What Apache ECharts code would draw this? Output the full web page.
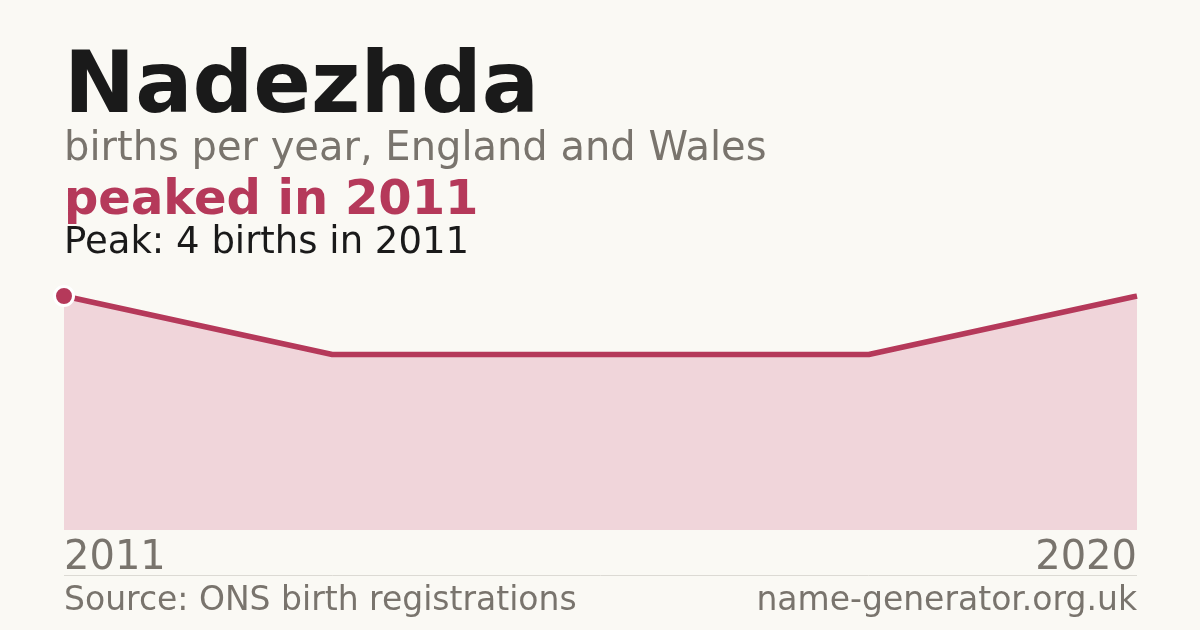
<!DOCTYPE html>
<html lang="en">
  <head>
    <meta charset="UTF-8" />
    <title>Nadezhda</title>
    <script src="https://cdn.jsdelivr.net/npm/echarts@6/dist/echarts.min.js"></script>
    <style>
      html, body { margin: 0; padding: 0; background: #faf9f4; }
      #chart { width: 1200px; height: 630px; }
    </style>
  </head>
  <body>
    <div id="chart"></div>
    <script>
      // data
      const years = ["2011", "2013", "2016", "2018", "2020"];
      const births = [4, 3, 3, 3, 4];
      const peakIndex = 0;

      const red = "#b5395a";
      const grey = "#79746d";
      const font = "DejaVu Sans";

      let chart = echarts.init(document.getElementById("chart"));

      // only the peak gets a dot
      let lineData = births.map(function (v, i) {
        if (i === peakIndex) {
          return { value: v, symbol: "circle", symbolSize: 19 };
        }
        return { value: v, symbol: "none" };
      });

      let option = {
        backgroundColor: "#faf9f4",
        animation: false,
        grid: { left: 64, right: 63, top: 296, bottom: 100 },
        xAxis: {
          type: "category",
          data: years,
          boundaryGap: false,
          axisLine: { show: false },
          axisTick: { show: false },
          splitLine: { show: false },
          axisLabel: {
            // first and last year only
            interval: function (i) { return i === 0 || i === years.length - 1; },
            alignMinLabel: "left",
            alignMaxLabel: "right",
            color: grey,
            fontFamily: font,
            fontSize: 40,
            margin: 9,
          },
        },
        yAxis: { type: "value", min: 0, max: 4, show: false },
        series: [
          {
            type: "line",
            data: lineData,
            lineStyle: { color: red, width: 5.5 },
            itemStyle: { color: red, borderColor: "#ffffff", borderWidth: 3 },
            areaStyle: { color: "#f0d5da", opacity: 1 },
            z: 3,
          },
        ],
        graphic: [
          {
            type: "text", left: 64, top: 47,
            style: { text: "Nadezhda", font: "bold 85px DejaVu Sans", fill: "#1a1a1a" },
          },
          {
            type: "text", left: 64, top: 130,
            style: { text: "births per year, England and Wales", font: "40px DejaVu Sans", fill: grey },
          },
          {
            type: "text", left: 64, top: 178,
            style: { text: "peaked in 2011", font: "bold 48px DejaVu Sans", fill: red },
          },
          {
            type: "text", left: 64, top: 225,
            style: { text: "Peak: 4 births in 2011", font: "37px DejaVu Sans", fill: "#1a1a1a" },
          },
          {
            type: "line",
            shape: { x1: 64, y1: 575.5, x2: 1137, y2: 575.5 },
            style: { stroke: "#dcdad4", lineWidth: 1 },
          },
          {
            type: "text", left: 64, top: 585,
            style: { text: "Source: ONS birth registrations", font: "33px DejaVu Sans", fill: grey },
          },
          {
            type: "text", right: 63, top: 585,
            style: { text: "name-generator.org.uk", font: "33px DejaVu Sans", fill: grey },
          },
        ],
      };
      chart.setOption(option);
    </script>
  </body>
</html>
